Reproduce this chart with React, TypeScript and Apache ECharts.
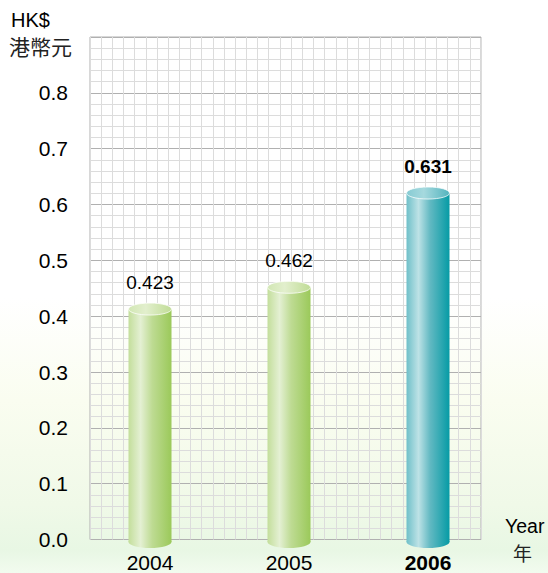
import React, { useEffect, useRef } from "react";
import * as echarts from "echarts";

const categories = ["2004", "2005", "2006"];
const values = [0.423, 0.462, 0.631];
const labels = ["0.423", "0.462", "0.631"];
const highlighted = [false, false, true];
const yTicks = [0, 0.1, 0.2, 0.3, 0.4, 0.5, 0.6, 0.7, 0.8, 0.9];

const FONT = "'Liberation Sans', Arial, Helvetica, sans-serif";
const CJK = "'Noto Sans CJK TC', 'Noto Sans CJK SC', sans-serif";

const GREEN_BODY = [
  { offset: 0, color: "#c3de9b" },
  { offset: 0.28, color: "#e4f0d3" },
  { offset: 0.55, color: "#bedb93" },
  { offset: 1, color: "#9bc95a" },
];
const GREEN_TOP = [
  { offset: 0, color: "#d2e7b4" },
  { offset: 0.4, color: "#e2efcd" },
  { offset: 1, color: "#c0dc96" },
];
const TEAL_BODY = [
  { offset: 0, color: "#6fc0c9" },
  { offset: 0.28, color: "#bde2e6" },
  { offset: 0.55, color: "#62b9c2" },
  { offset: 1, color: "#069ba5" },
];
const TEAL_TOP = [
  { offset: 0, color: "#86cbd3" },
  { offset: 0.4, color: "#a6d9de" },
  { offset: 1, color: "#53b4be" },
];

export default function App() {
  const ref = useRef<HTMLDivElement>(null);
  useEffect(() => {
    if (!ref.current) return;
    const chart = echarts.init(ref.current, null, { renderer: "svg" });
    const gridTop = 37;
    const gridBottom = 573 - 539.5;
    const option: any = {
      animation: false,
      graphic: [
        {
          type: "rect",
          z: -100,
          silent: true,
          shape: { x: 0, y: 0, width: 548, height: 573 },
          style: {
            fill: new echarts.graphic.LinearGradient(0, 0, 0, 1, [
              { offset: 0, color: "#ffffff" },
              { offset: 0.52, color: "#ffffff" },
              { offset: 0.7, color: "#fafdf0" },
              { offset: 0.88, color: "#f0f9e8" },
              { offset: 0.96, color: "#e8f7e4" },
              { offset: 1, color: "#f2fbef" },
            ]),
          },
        },
        {
          type: "text",
          left: 11,
          top: 10,
          style: { text: "HK$", fontSize: 20, fontFamily: FONT, fill: "#000" },
        },
        {
          type: "text",
          left: 9,
          top: 35,
          style: { text: "港幣元", fontSize: 21, fontFamily: CJK, fill: "#222" },
        },
        {
          type: "text",
          left: 505,
          top: 516,
          style: { text: "Year", fontSize: 19.5, fontFamily: FONT, fill: "#000" },
        },
        {
          type: "text",
          left: 513,
          top: 543,
          style: { text: "年", fontSize: 19, fontFamily: CJK, fill: "#222" },
        },
      ],
      grid: [
        {
          left: 90,
          top: gridTop,
          width: 391,
          bottom: gridBottom,
          show: true,
          borderColor: "#b0b0b0",
          borderWidth: 1,
          backgroundColor: "transparent",
        },
        {
          left: 80.5,
          top: gridTop,
          width: 417,
          bottom: gridBottom,
        },
      ],
      xAxis: [
        {
          type: "value",
          gridIndex: 0,
          min: 0,
          max: 35,
          interval: 1,
          axisLabel: { show: false },
          axisLine: { show: false },
          axisTick: { show: false },
          splitLine: { show: true, lineStyle: { color: "#dcdcdc", width: 1 } },
        },
        {
          type: "category",
          gridIndex: 1,
          data: categories,
          axisLine: { show: false },
          axisTick: { show: false },
          axisLabel: {
            margin: 13,
            fontSize: 21,
            fontFamily: FONT,
            color: "#000",
            formatter: (v: string) => {
              const i = categories.indexOf(v);
              return highlighted[i] ? "{b|" + v + "}" : v;
            },
            rich: {
              b: { fontSize: 21, fontWeight: "bold", fontFamily: FONT, color: "#000" },
            },
          },
        },
      ],
      yAxis: [
        {
          type: "value",
          gridIndex: 0,
          min: 0,
          max: 0.9,
          interval: 0.1,
          axisLine: { show: false },
          axisTick: { show: false },
          axisLabel: {
            margin: 22,
            fontSize: 21,
            fontFamily: FONT,
            color: "#000",
            formatter: (v: number) => {
              const t = yTicks.find((x) => Math.abs(x - v) < 1e-6);
              if (t === undefined || t > 0.85) return "";
              return t.toFixed(1);
            },
          },
          splitLine: { show: true, lineStyle: { color: "#b0b0b0", width: 1 } },
          minorTick: { show: false, splitNumber: 5 },
          minorSplitLine: { show: true, lineStyle: { color: "#dcdcdc", width: 1 } },
        },
        {
          type: "value",
          gridIndex: 1,
          min: 0,
          max: 0.9,
          interval: 0.1,
          show: false,
          splitLine: { show: false },
        },
      ],
      series: [
        {
          type: "custom",
          xAxisIndex: 1,
          yAxisIndex: 1,
          z: 5,
          data: values.map((v, i) => [i, v]),
          renderItem: (params: any, api: any) => {
            const idx = api.value(0);
            const v = api.value(1);
            const top = api.coord([idx, v]);
            const base = api.coord([idx, 0]);
            const w = 43;
            const rx = w / 2;
            const ry = 6;
            const cx = top[0];
            const ty = top[1] + ry;
            const by = base[1] + 3;
            const hl = highlighted[idx];
            const body = new echarts.graphic.LinearGradient(0, 0, 1, 0, hl ? TEAL_BODY : GREEN_BODY);
            const body2 = new echarts.graphic.LinearGradient(0, 0, 1, 0, hl ? TEAL_BODY : GREEN_BODY);
            const topFill = new echarts.graphic.LinearGradient(0, 0, 1, 0, hl ? TEAL_TOP : GREEN_TOP);
            return {
              type: "group",
              children: [
                {
                  type: "ellipse",
                  shape: { cx, cy: by, rx, ry },
                  style: { fill: body2 },
                },
                {
                  type: "rect",
                  shape: { x: cx - rx, y: ty, width: w, height: by - ty },
                  style: { fill: body },
                },
                {
                  type: "ellipse",
                  shape: { cx, cy: ty, rx, ry },
                  style: { fill: topFill, stroke: "rgba(255,255,255,0.75)", lineWidth: 1 },
                },
                {
                  type: "text",
                  x: cx,
                  y: top[1] - 21,
                  style: {
                    text: labels[idx],
                    fontSize: 19,
                    fontWeight: hl ? "bold" : "normal",
                    fontFamily: FONT,
                    fill: "#000",
                    align: "center",
                    verticalAlign: "middle",
                  },
                },
              ],
            };
          },
        },
      ],
    };
    chart.setOption(option);
    return () => chart.dispose();
  }, []);
  return (
    <div
      ref={ref}
      style={{ position: "absolute", left: 0, top: 0, width: 548, height: 573 }}
    />
  );
}
